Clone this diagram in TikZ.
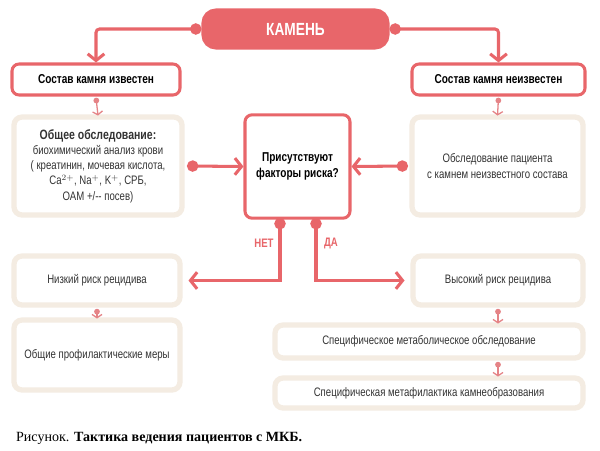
\documentclass[tikz,border=0pt]{standalone}
\usepackage{fontspec}
\setmainfont{Liberation Serif}
\newfontfamily\condfont[FakeStretch=0.78]{Liberation Sans}
\usetikzlibrary{arrows.meta,positioning}
\definecolor{stonered}{HTML}{E8666A}
\definecolor{arrowred}{HTML}{E58386}
\definecolor{beige}{HTML}{F4ECE2}
\tikzset{
  redbox/.style={draw=stonered,line width=2.6pt,rounded corners=6pt,fill=white,
    align=center,font=\condfont\bfseries\fontsize{11}{13.5}\selectfont},
  softbox/.style={draw=beige,line width=4.5pt,rounded corners=7pt,fill=white,
    align=center,font=\condfont\fontsize{10.5}{13}\selectfont,text=black!80},
  bigarrow/.style={draw=stonered,line width=2.6pt,{Circle[length=3.4mm]}-{Straight Barb[length=2mm,width=5mm,line width=2.6pt]}},
  smallarrow/.style={draw=arrowred,line width=1.1pt,{Circle[length=1.7mm]}-{Straight Barb[length=1mm,width=3mm]}}
}
\begin{document}
\begin{tikzpicture}[x=0.03cm,y=-0.03cm]
  \useasboundingbox[fill=white] (0,0) rectangle (600,450);
  % top
  \node[redbox,fill=stonered,text=white,font=\condfont\bfseries\fontsize{15}{16}\selectfont,
    rounded corners=11pt,minimum width=5.55cm,minimum height=1.14cm] (stone) at (295.5,29) {КАМЕНЬ};
  \node[redbox,minimum width=5.04cm,minimum height=0.93cm] (known) at (96,79.5) {Состав камня известен};
  \node[redbox,minimum width=5.19cm,minimum height=0.93cm] (unknown) at (498.5,79.5) {Состав камня неизвестен};
  % examinations
  \node[softbox,minimum width=5.04cm,minimum height=2.94cm] (exam) at (98,166)
    {{\bfseries\fontsize{11.5}{14}\selectfont Общее обследование:}\\биохимический анализ крови\\( креатинин, мочевая кислота,\\Ca$^{2+}$, Na$^{+}$, K$^{+}$, СРБ,\\ОАМ +/-- посев)};
  \node[softbox,minimum width=5.13cm,minimum height=2.94cm] (unexam) at (497.5,166)
    {Обследование пациента\\с камнем неизвестного состава};
  \node[redbox,minimum width=3.15cm,minimum height=3.1cm] (risk) at (297.5,166.5)
    {Присутствуют\\факторы риска?};
  % outcomes
  \node[softbox,minimum width=4.98cm,minimum height=1.47cm] (low) at (97,280.5) {Низкий риск рецидива};
  \node[softbox,minimum width=5.1cm,minimum height=1.47cm] (high) at (498,280.5) {Высокий риск рецидива};
  \node[softbox,minimum width=4.98cm,minimum height=2.1cm] (prof) at (97,355) {Общие профилактические меры};
  \node[softbox,minimum width=9.24cm,minimum height=0.99cm] (metab) at (429,341.5) {Специфическое метаболическое обследование};
  \node[softbox,minimum width=9.24cm,minimum height=0.9cm] (metaf) at (429,393) {Специфическая метафилактика камнеобразования};
  \coordinate (nodot) at (280,218);
  \coordinate (yesdot) at (316,218);
  \coordinate (examdot) at (187,166);
  \coordinate (unexamdot) at (408,166);
  \node[font=\condfont\bfseries\fontsize{10.5}{12}\selectfont,text=stonered] (no) at (264,243) {НЕТ};
  \node[font=\condfont\bfseries\fontsize{10.5}{12}\selectfont,text=stonered] (yes) at (331,243) {ДА};
  % connectors
  \draw[bigarrow,rounded corners=3pt] (stone.west) -| (known.north);
  \draw[bigarrow,rounded corners=3pt] (stone.east) -| (unknown.north);
  \draw[smallarrow] ([yshift=-1]known.south) -- ([yshift=-1]exam.north);
  \draw[smallarrow] ([yshift=-1]unknown.south) -- ([yshift=-1]unexam.north);
  \draw[bigarrow] (examdot) -- (risk.west);
  \draw[bigarrow] (unexamdot) -- (risk.east);
  \draw[bigarrow] (nodot) |- ([xshift=5]low.east);
  \draw[bigarrow] (yesdot) |- ([xshift=-5]high.west);
  \draw[smallarrow] ([yshift=-1]low.south) -- ([yshift=-1]prof.north);
  \draw[smallarrow] ([yshift=-1]high.south) -- ([yshift=-1]high.south |- metab.north);
  \draw[smallarrow] ([yshift=-1]metab.south -| high.south) -- ([yshift=-1]high.south |- metaf.north);
  % caption
  \node[anchor=west,font=\fontsize{12}{14}\selectfont] (caption) at (12,438)
    {Рисунок. \textbf{Тактика ведения пациентов с МКБ.}};
\end{tikzpicture}
\end{document}
